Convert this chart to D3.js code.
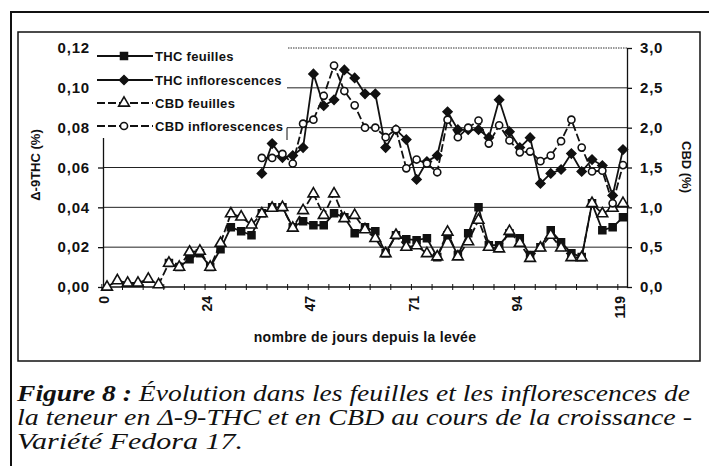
<!DOCTYPE html>
<html>
<head>
<meta charset="utf-8">
<script src="https://cdn.jsdelivr.net/npm/d3@7"></script>
<style>
body { margin: 0; background: #fff; }
svg { font-family: "Liberation Sans", Arial, sans-serif; }
</style>
</head>
<body>
<div id="chart"></div>
<script>
// sampling points (51 samples), labelled every 10th sample
const nSamples = 51
const labelEvery = 10
const dayLabels = ['0', '24', '47', '71', '94', '119']
const leftTicks = [0, 0.02, 0.04, 0.06, 0.08, 0.10, 0.12]
const rightTicks = [0, 0.5, 1, 1.5, 2, 2.5, 3]

// Δ-9-THC (%) - left axis
const thcFeuilles = [null, null, null, null, null, null, 0.012, 0.010, 0.014, 0.017,
    0.010, 0.019, 0.030, 0.028, 0.026, 0.037, 0.040, 0.040, 0.030, 0.033,
    0.031, 0.031, 0.037, 0.035, 0.027, 0.030, 0.028, 0.017, 0.026, 0.024,
    0.0235, 0.0245, 0.015, 0.026, 0.016, 0.027, 0.040, 0.021, 0.021, 0.027,
    0.0245, 0.016, 0.020, 0.0285, 0.0225, 0.017, 0.015, 0.042, 0.0285, 0.030, 0.035]
const thcInflo = [null, null, null, null, null, null, null, null, null, null,
    null, null, null, null, null, 0.057, 0.072, 0.065, 0.066, 0.070,
    0.107, 0.091, 0.094, 0.109, 0.105, 0.097, 0.097, 0.070, 0.079, 0.074,
    0.054, 0.063, 0.066, 0.088, 0.079, 0.079, 0.079, 0.075, 0.094, 0.078,
    0.070, 0.075, 0.052, 0.057, 0.059, 0.067, 0.058, 0.064, 0.061, 0.046, 0.069]
// CBD (%) - right axis
const cbdFeuilles = [0.0, 0.08, 0.05, 0.05, 0.10, 0.03, 0.30, 0.25, 0.44, 0.45,
    0.25, 0.55, 0.92, 0.88, 0.78, 0.92, 0.99, 1.0, 0.74, 0.96,
    1.17, 0.90, 1.17, 0.86, 0.90, 0.72, 0.61, 0.42, 0.65, 0.50,
    0.52, 0.42, 0.38, 0.69, 0.38, 0.57, 0.84, 0.50, 0.48, 0.70,
    0.55, 0.36, 0.49, 0.65, 0.49, 0.37, 0.37, 1.05, 0.92, 0.99, 1.05]
const cbdInflo = [null, null, null, null, null, null, null, null, null, null,
    null, null, null, null, null, 1.62, 1.62, 1.67, 1.55, 2.05,
    2.10, 2.40, 2.78, 2.46, 2.28, 2.0, 2.0, 1.88, 1.98, 1.49,
    1.60, 1.55, 1.44, 2.10, 1.88, 2.0, 2.09, 1.80, 2.03, 1.84,
    1.69, 1.70, 1.58, 1.65, 1.83, 2.10, 1.75, 1.45, 1.46, 1.05, 1.53]

const width = 709
const height = 466
const plot = { left: 103, right: 627, top: 48, bottom: 287 }
const ink = '#111'

const svg = d3.select('#chart')
    .append('svg')
    .attr('width', width)
    .attr('height', height)

// page frames
svg.append('path')
    .attr('d', 'M11,466V12H709')
    .attr('fill', 'none')
    .attr('stroke', ink)
    .attr('stroke-width', 2)
svg.append('rect')
    .attr('x', 18).attr('y', 32)
    .attr('width', 682).attr('height', 329)
    .attr('fill', 'none')
    .attr('stroke', ink)
    .attr('stroke-width', 1.5)

const x = d3.scalePoint()
    .domain(d3.range(nSamples))
    .range([plot.left, plot.right])
    .padding(0.39)
const yL = d3.scaleLinear().domain([0, 0.12]).range([plot.bottom, plot.top])
const yR = d3.scaleLinear().domain([0, 3]).range([plot.bottom, plot.top])

const fr = d3.formatLocale({ decimal: ',', thousands: ' ', grouping: [3], currency: ['', ''] })

// gridlines
svg.append('g')
    .selectAll('line')
    .data(leftTicks.slice(1, -1))
    .join('line')
    .attr('x1', plot.left)
    .attr('x2', plot.right)
    .attr('y1', d => yL(d))
    .attr('y2', d => yL(d))
    .attr('stroke', '#222')
    .attr('stroke-width', 1)
// dotted top border
svg.append('line')
    .attr('x1', plot.left).attr('x2', plot.right)
    .attr('y1', yL(0.12)).attr('y2', yL(0.12))
    .attr('stroke', '#333')
    .attr('stroke-dasharray', '1.5,1')

const leftAxis = svg.append('g')
    .attr('transform', 'translate(' + plot.left + ',0)')
    .call(d3.axisLeft(yL).tickValues(leftTicks).tickFormat(fr.format('.2f'))
        .tickSize(5).tickSizeOuter(0).tickPadding(8))
const rightAxis = svg.append('g')
    .attr('transform', 'translate(' + plot.right + ',0)')
    .call(d3.axisRight(yR).tickValues(rightTicks).tickFormat(fr.format('.1f'))
        .tickSize(5).tickSizeOuter(0).tickPadding(8))
;[leftAxis, rightAxis].forEach(g => {
    g.attr('font-family', null).attr('font-size', 15).attr('font-weight', 'bold')
    g.selectAll('path, line').attr('stroke', ink).attr('stroke-width', 1.3)
    g.selectAll('text').attr('fill', ink).attr('letter-spacing', 0.8)
})

// category axis
svg.append('line')
    .attr('x1', plot.left).attr('x2', plot.right)
    .attr('y1', plot.bottom).attr('y2', plot.bottom)
    .attr('stroke', ink)
    .attr('stroke-width', 1.3)
svg.append('g')
    .selectAll('line')
    .data(x.domain().filter(i => i % 2 === 0))
    .join('line')
    .attr('x1', i => x(i) - x.step() / 2)
    .attr('x2', i => x(i) - x.step() / 2)
    .attr('y1', plot.bottom - 3)
    .attr('y2', plot.bottom + 3)
    .attr('stroke', ink)
svg.append('g')
    .selectAll('text')
    .data(dayLabels)
    .join('text')
    .attr('transform', (d, k) => 'translate(' + (x(k * labelEvery) - 3) + ',' + (plot.bottom + 9) + ') rotate(-90)')
    .attr('dy', '0.35em')
    .attr('text-anchor', 'end')
    .attr('font-size', 14)
    .attr('font-weight', 'bold')
    .attr('fill', ink)
    .text(d => d)

// legend background hides the top-left of the plot area
svg.append('rect')
    .attr('x', 94).attr('y', 38)
    .attr('width', 193).attr('height', 100)
    .attr('fill', '#fff')
svg.append('path')
    .attr('d', 'M287,' + yL(0.08) + 'V140')
    .attr('stroke', ink)
    .attr('fill', 'none')

const series = [
    { name: 'THC feuilles', values: thcFeuilles, y: yL, symbol: d3.symbolSquare, size: 48, rotate: 0, fill: ink, dash: null },
    { name: 'THC inflorescences', values: thcInflo, y: yL, symbol: d3.symbolSquare, size: 40, rotate: 45, fill: ink, dash: null },
    { name: 'CBD feuilles', values: cbdFeuilles, y: yR, symbol: d3.symbolTriangle, size: 50, rotate: 0, fill: '#fff', dash: '8,3' },
    { name: 'CBD inflorescences', values: cbdInflo, y: yR, symbol: d3.symbolCircle, size: 40, rotate: 0, fill: '#fff', dash: '8,3' }
]

series.forEach(s => {
    const line = d3.line()
        .defined(d => d != null)
        .x((d, i) => x(i))
        .y(d => s.y(d))
    svg.append('path')
        .datum(s.values)
        .attr('d', line)
        .attr('fill', 'none')
        .attr('stroke', ink)
        .attr('stroke-width', 1.8)
        .attr('stroke-dasharray', s.dash)
    svg.append('g')
        .selectAll('path')
        .data(s.values.map((v, i) => ({ v, i })).filter(d => d.v != null))
        .join('path')
        .attr('transform', d => 'translate(' + x(d.i) + ',' + s.y(d.v) + ') rotate(' + s.rotate + ')')
        .attr('d', d3.symbol(s.symbol, s.size))
        .attr('fill', s.fill)
        .attr('stroke', ink)
        .attr('stroke-width', 1.6)
})

// legend
const legendRows = [56, 80, 103, 126]
const legend = svg.append('g')
    .selectAll('g')
    .data(series)
    .join('g')
    .attr('transform', (d, i) => 'translate(0,' + legendRows[i] + ')')
legend.append('line')
    .attr('x1', 97).attr('x2', 153)
    .attr('stroke', ink)
    .attr('stroke-width', 1.8)
    .attr('stroke-dasharray', d => d.dash)
legend.append('path')
    .attr('transform', d => 'translate(124,0) rotate(' + d.rotate + ')')
    .attr('d', d => d3.symbol(d.symbol, d.size)())
    .attr('fill', d => d.fill)
    .attr('stroke', ink)
    .attr('stroke-width', 1.6)
legend.append('text')
    .attr('x', 155)
    .attr('dy', '0.35em')
    .attr('font-size', 13)
    .attr('font-weight', 'bold')
    .attr('letter-spacing', 0.3)
    .attr('fill', ink)
    .text(d => d.name)

// axis titles
svg.append('text')
    .attr('transform', 'translate(35,165) rotate(-90)')
    .attr('dy', '0.35em')
    .attr('text-anchor', 'middle')
    .attr('font-size', 13)
    .attr('font-weight', 'bold')
    .attr('fill', ink)
    .text('Δ-9THC (%)')
svg.append('text')
    .attr('transform', 'translate(687,167) rotate(90)')
    .attr('dy', '0.35em')
    .attr('text-anchor', 'middle')
    .attr('font-size', 13)
    .attr('font-weight', 'bold')
    .attr('fill', ink)
    .text('CBD (%)')
svg.append('text')
    .attr('x', 365)
    .attr('y', 342)
    .attr('text-anchor', 'middle')
    .attr('font-size', 14)
    .attr('font-weight', 'bold')
    .attr('letter-spacing', 0.3)
    .attr('fill', ink)
    .text('nombre de jours depuis la levée')

// caption
const caption = svg.append('g')
    .attr('font-style', 'italic')
    .attr('fill', ink)
    .attr('font-family', '"Liberation Serif", "Times New Roman", serif')
    .attr('font-size', 23)
const cap1 = caption.append('text')
    .attr('x', 17).attr('y', 401)
    .attr('textLength', 673)
    .attr('lengthAdjust', 'spacingAndGlyphs')
cap1.append('tspan').attr('font-weight', 'bold').text('Figure 8 :')
cap1.append('tspan').text(' Évolution dans les feuilles et les inflorescences de')
caption.append('text')
    .attr('x', 17).attr('y', 425)
    .attr('textLength', 675)
    .attr('lengthAdjust', 'spacingAndGlyphs')
    .text('la teneur en Δ-9-THC et en CBD au cours de la croissance -')
caption.append('text')
    .attr('x', 17).attr('y', 449)
    .attr('textLength', 226)
    .attr('lengthAdjust', 'spacingAndGlyphs')
    .text('Variété Fedora 17.')
</script>
</body>
</html>
